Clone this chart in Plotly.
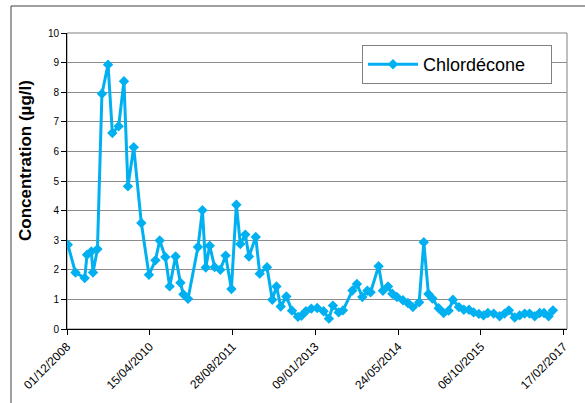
import plotly.graph_objects as go

dates = [
    "2008-12-06", "2009-01-21", "2009-03-18", "2009-04-01", "2009-04-27", "2009-05-07",
    "2009-06-03", "2009-06-30", "2009-08-06", "2009-09-01", "2009-10-09", "2009-11-10",
    "2009-12-04", "2010-01-08", "2010-02-23", "2010-04-10", "2010-05-19", "2010-06-14",
    "2010-07-18", "2010-08-13", "2010-09-18", "2010-10-17", "2010-11-04", "2010-12-02",
    "2011-01-31", "2011-02-27", "2011-03-19", "2011-04-12", "2011-05-12", "2011-06-15",
    "2011-07-17", "2011-08-21", "2011-09-20", "2011-10-14", "2011-11-13", "2011-12-05",
    "2012-01-15", "2012-02-08", "2012-03-23", "2012-04-24", "2012-05-19", "2012-06-14",
    "2012-07-18", "2012-08-21", "2012-09-26", "2012-10-17", "2012-11-13", "2012-12-16",
    "2013-01-20", "2013-02-28", "2013-04-01", "2013-04-25", "2013-05-30", "2013-06-25",
    "2013-08-21", "2013-09-17", "2013-10-20", "2013-11-19", "2013-12-09", "2014-01-26",
    "2014-02-21", "2014-03-24", "2014-04-19", "2014-05-17", "2014-06-22", "2014-07-22",
    "2014-08-21", "2014-09-28", "2014-10-26", "2014-11-23", "2014-12-17", "2015-01-24",
    "2015-02-23", "2015-03-25", "2015-04-20", "2015-05-26", "2015-06-25", "2015-07-26",
    "2015-08-23", "2015-09-24", "2015-10-22", "2015-11-17", "2015-12-22", "2016-01-27",
    "2016-02-26", "2016-03-23", "2016-04-27", "2016-05-27", "2016-06-26", "2016-07-26",
    "2016-08-26", "2016-09-25", "2016-10-21", "2016-11-18", "2016-12-14",
]

chlordecone = [
    2.85, 1.91, 1.72, 2.51, 2.62, 1.91,
    2.70, 7.95, 8.93, 6.62, 6.85, 8.37,
    4.82, 6.14, 3.58, 1.83, 2.32, 2.99,
    2.43, 1.44, 2.45, 1.56, 1.17, 1.02,
    2.77, 4.01, 2.08, 2.81, 2.09, 2.00,
    2.48, 1.35, 4.20, 2.87, 3.19, 2.45,
    3.11, 1.87, 2.09, 0.99, 1.44, 0.76,
    1.10, 0.62, 0.41, 0.45, 0.60, 0.69,
    0.71, 0.60, 0.35, 0.79, 0.56, 0.63,
    1.30, 1.52, 1.08, 1.29, 1.24, 2.12,
    1.29, 1.44, 1.19, 1.08, 0.97, 0.88,
    0.74, 0.90, 2.93, 1.18, 1.03, 0.70,
    0.54, 0.62, 0.99, 0.74, 0.65, 0.65,
    0.56, 0.51, 0.46, 0.54, 0.52, 0.43,
    0.52, 0.63, 0.39, 0.46, 0.52, 0.52,
    0.43, 0.54, 0.54, 0.43, 0.63,
]

tick_dates = ["2008-12-01", "2010-04-15", "2011-08-28", "2013-01-09",
              "2014-05-24", "2015-10-06", "2017-02-17"]
tick_labels = ["01/12/2008", "15/04/2010", "28/08/2011", "09/01/2013",
               "24/05/2014", "06/10/2015", "17/02/2017"]

FONT = "Arial, Liberation Sans, sans-serif"
BLUE = "#00B0F0"

L, R, T, B = 67, 18, 33, 74
PW, PH = 585 - L - R, 403 - T - B


def px_x(px):
    return (px - L) / PW


def px_y(py):
    return (403 - B - py) / PH


fig = go.Figure()
fig.add_trace(go.Scatter(
    x=dates, y=chlordecone, mode="lines+markers",
    name="Chlordécone" + "\u00a0" * 4,
    line=dict(color=BLUE, width=3),
    marker=dict(symbol="diamond", size=8, color=BLUE),
))

fig.update_layout(
    width=585, height=403,
    margin=dict(l=L, r=R, t=T, b=B, autoexpand=False),
    paper_bgcolor="white", plot_bgcolor="white",
    font=dict(family=FONT, size=11, color="black"),
    showlegend=True,
    legend=dict(
        x=px_x(362), y=px_y(45), xanchor="left", yanchor="top",
        bordercolor="#808080", borderwidth=1, bgcolor="white",
        font=dict(family=FONT, size=18, color="black"),
        itemwidth=50,
    ),
    xaxis=dict(
        type="date", automargin=False,
        range=["2008-12-01", "2017-03-09"],
        tickvals=tick_dates, ticktext=tick_labels,
        tickangle=-45,
        ticks="outside", ticklen=5, tickcolor="black",
        showgrid=False, zeroline=False,
        showline=True, linecolor="black", linewidth=1,
        tickfont=dict(family=FONT, size=12, color="black"),
    ),
    yaxis=dict(
        range=[0, 10], dtick=1, automargin=False,
        ticks="outside", ticklen=5, tickcolor="black",
        showgrid=True, gridcolor="#8c8c8c", gridwidth=1,
        zeroline=False,
        showline=True, linecolor="black", linewidth=1,
        tickfont=dict(family=FONT, size=10, color="black"),
    ),
    annotations=[
        dict(text="<b>Concentration (µg/l)</b>", textangle=-90,
             xref="paper", yref="paper", x=px_x(25), y=px_y(161),
             xanchor="center", yanchor="middle", showarrow=False,
             font=dict(family=FONT, size=17, color="black")),
    ],
    shapes=[
        dict(type="rect", xref="paper", yref="paper", x0=0, x1=1, y0=0, y1=1,
             line=dict(color="#808080", width=1), layer="below"),
        dict(type="line", xref="paper", yref="paper",
             x0=px_x(11), x1=px_x(11), y0=px_y(403), y1=px_y(6),
             line=dict(color="#404040", width=1)),
        dict(type="line", xref="paper", yref="paper",
             x0=px_x(11), x1=px_x(585), y0=px_y(6), y1=px_y(6),
             line=dict(color="#404040", width=1)),
    ],
)

fig.write_html(
    "out.html",
    config={"displayModeBar": False},
    post_script="document.body.style.margin='0';document.body.style.overflow='hidden';",
)
